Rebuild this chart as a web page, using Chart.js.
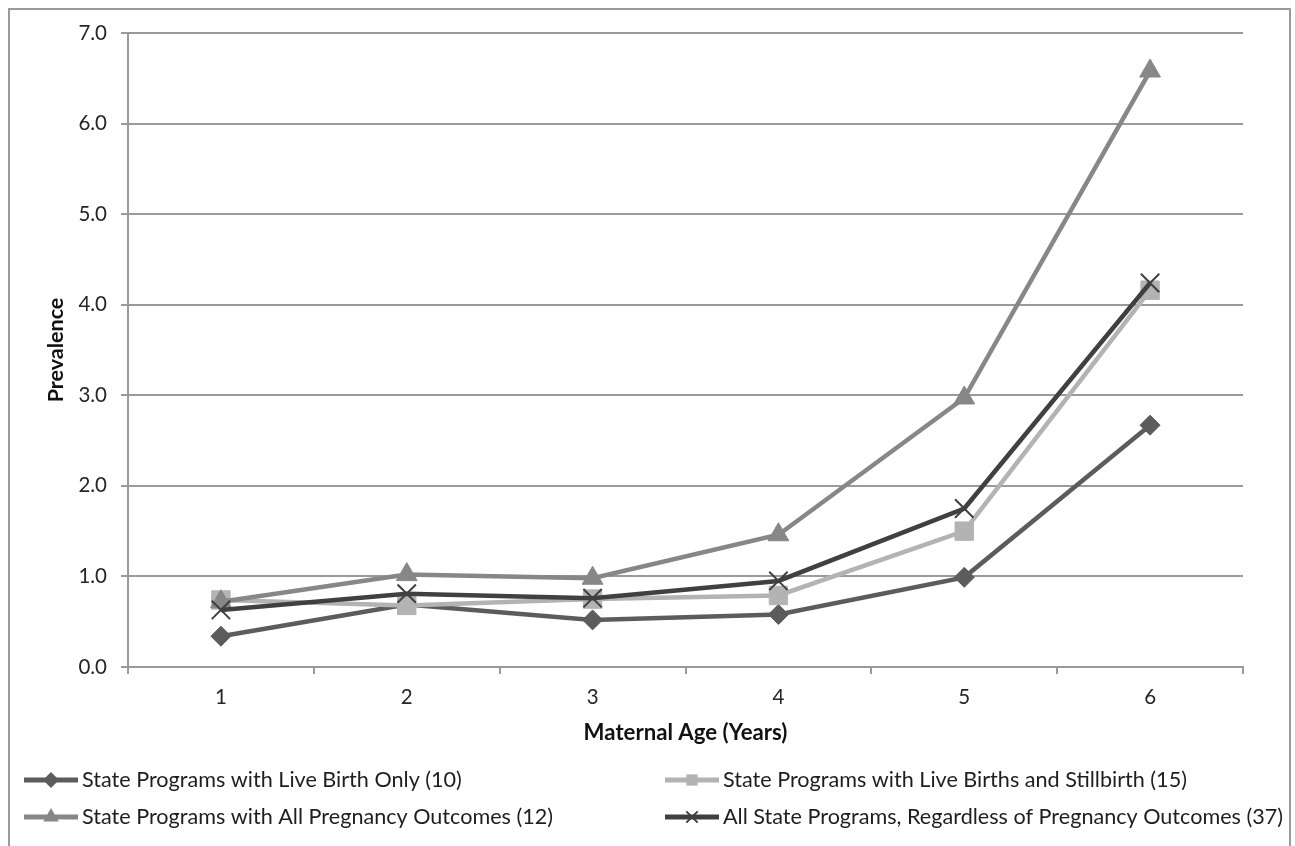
<!DOCTYPE html>
<html>
<head>
<meta charset="utf-8">
<script src="https://cdn.jsdelivr.net/npm/chart.js@4/dist/chart.umd.min.js"></script>
<style>
  html, body { margin: 0; padding: 0; background: #ffffff; }
  #wrap { width: 1295px; height: 846px; position: relative; }
</style>
</head>
<body>
<div id="wrap"><canvas id="c" width="1295" height="846"></canvas></div>
<script>
// ---- data ----
const categories = ['1', '2', '3', '4', '5', '6'];
const seriesNames = [
  'State Programs with Live Birth Only (10)',
  'State Programs with Live Births and Stillbirth (15)',
  'State Programs with All Pregnancy Outcomes (12)',
  'All State Programs, Regardless of Pregnancy Outcomes (37)'
];
const liveBirthOnly = [0.34, 0.69, 0.52, 0.58, 0.99, 2.67];
const liveAndStillbirth = [0.74, 0.68, 0.75, 0.79, 1.50, 4.16];
const allOutcomes = [0.72, 1.02, 0.98, 1.46, 2.97, 6.58];
const allPrograms = [0.63, 0.81, 0.76, 0.95, 1.75, 4.24];
const yTickLabels = ['0.0', '1.0', '2.0', '3.0', '4.0', '5.0', '6.0', '7.0'];
const xTitle = 'Maternal Age (Years)';
const yTitle = 'Prevalence';

// ---- styles ----
const FONT = 'Lato, "Open Sans", sans-serif';
const GRID = '#9a9a9a';
const styles = [
  { color: '#5c5c5c', point: 'rectRot', r: 10, pbw: 1 },
  { color: '#b3b3b3', point: 'rect', r: 13, pbw: 1 },
  { color: '#878787', point: 'triangle', r: 12, pbw: 1 },
  { color: '#404040', point: 'crossRot', r: 13, pbw: 2 }
];
const seriesData = [liveBirthOnly, liveAndStillbirth, allOutcomes, allPrograms];

const datasets = seriesData.map((d, i) => ({
  label: seriesNames[i],
  data: d,
  borderColor: styles[i].color,
  backgroundColor: styles[i].color,
  borderWidth: 4.5,
  pointStyle: styles[i].point,
  pointRadius: styles[i].r,
  pointHoverRadius: styles[i].r,
  pointBackgroundColor: styles[i].color,
  pointBorderColor: styles[i].color,
  pointBorderWidth: styles[i].pbw,
  tension: 0,
  fill: false,
  order: 3 - i
}));

function drawMarker(ctx, type, x, y, r, color) {
  ctx.save();
  ctx.fillStyle = color;
  ctx.strokeStyle = color;
  ctx.beginPath();
  if (type === 'rectRot') {
    ctx.moveTo(x, y - r); ctx.lineTo(x + r, y); ctx.lineTo(x, y + r); ctx.lineTo(x - r, y);
    ctx.closePath(); ctx.fill();
  } else if (type === 'rect') {
    const h = r * Math.SQRT1_2;
    ctx.rect(x - h, y - h, 2 * h, 2 * h); ctx.fill();
  } else if (type === 'triangle') {
    ctx.moveTo(x, y - r);
    ctx.lineTo(x + r * 0.866, y + r * 0.5);
    ctx.lineTo(x - r * 0.866, y + r * 0.5);
    ctx.closePath(); ctx.fill();
  } else if (type === 'crossRot') {
    const h = r * Math.SQRT1_2;
    ctx.lineWidth = 2;
    ctx.moveTo(x - h, y - h); ctx.lineTo(x + h, y + h);
    ctx.moveTo(x - h, y + h); ctx.lineTo(x + h, y - h);
    ctx.stroke();
  }
  ctx.restore();
}

const framePlugin = {
  id: 'frame',
  beforeDraw(chart) {
    const ctx = chart.ctx;
    ctx.save();
    ctx.fillStyle = '#ffffff';
    ctx.fillRect(0, 0, chart.width, chart.height);
    ctx.strokeStyle = '#9a9a9a';
    ctx.lineWidth = 2;
    ctx.strokeRect(9, 9, 1281, 845);
    ctx.restore();
  },
  afterDraw(chart) {
    const ctx = chart.ctx;
    const pos = [
      { x: 24, y: 780 },
      { x: 665, y: 780 },
      { x: 24, y: 817 },
      { x: 665, y: 817 }
    ];
    const markerR = [8, 8, 9, 8];
    ctx.save();
    ctx.font = '21.6px ' + FONT;
    ctx.textBaseline = 'middle';
    ctx.textAlign = 'left';
    seriesNames.forEach((name, i) => {
      const p = pos[i];
      ctx.strokeStyle = styles[i].color;
      ctx.lineWidth = 5;
      ctx.beginPath();
      ctx.moveTo(p.x, p.y);
      ctx.lineTo(p.x + 54, p.y);
      ctx.stroke();
      drawMarker(ctx, styles[i].point, p.x + 27, p.y, markerR[i], styles[i].color);
      ctx.fillStyle = '#1e1e1e';
      ctx.fillText(name, p.x + 58, p.y);
    });
    ctx.restore();
  }
};

new Chart(document.getElementById('c'), {
  type: 'line',
  data: { labels: categories, datasets },
  plugins: [framePlugin],
  options: {
    responsive: false,
    animation: false,
    devicePixelRatio: 1,
    layout: { padding: { top: 33, left: 0, right: 52, bottom: 98 } },
    plugins: { legend: { display: false }, tooltip: { enabled: false } },
    scales: {
      x: {
        type: 'category',
        offset: true,
        grid: { display: true, offset: true, drawOnChartArea: false, drawTicks: true, tickLength: 7, color: GRID, lineWidth: 2 },
        border: { display: true, color: GRID, width: 2 },
        ticks: { color: '#262626', font: { family: FONT, size: 20.5 }, padding: 11, maxRotation: 0 },
        title: { display: true, text: xTitle, color: '#111111', font: { family: FONT, size: 22.2, weight: 'bold' }, padding: { top: 0, bottom: 2 } },
        afterFit(scale) { scale.height = 81; }
      },
      y: {
        min: 0, max: 7,
        ticks: {
          stepSize: 1,
          color: '#262626',
          font: { family: FONT, size: 20.5 },
          padding: 14,
          callback: (v, idx) => yTickLabels[idx]
        },
        grid: { color: GRID, lineWidth: 2, drawTicks: true, tickLength: 7 },
        border: { display: true, color: GRID, width: 2 },
        title: { display: true, text: yTitle, color: '#111111', font: { family: FONT, size: 21.5, weight: 'bold' }, padding: { top: 43, bottom: 0 } },
        afterFit(scale) { scale.width = 128; }
      }
    }
  }
});
</script>
</body>
</html>
